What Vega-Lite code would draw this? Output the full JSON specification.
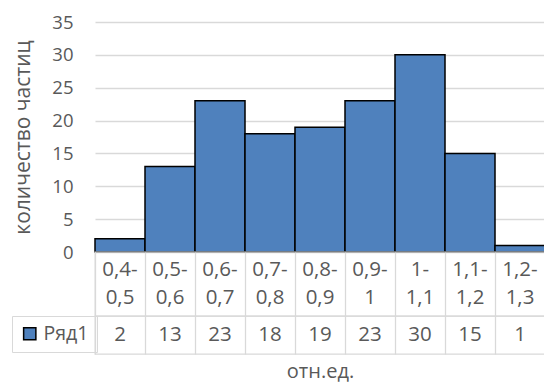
{
  "$schema": "https://vega.github.io/schema/vega-lite/v6.json",
  "padding": {"left": 10, "top": 13, "right": 0, "bottom": 0},
  "bounds": "flush",
  "spacing": 0,
  "config": {
    "font": "Open Sans",
    "view": {"stroke": "#d9d9d9", "strokeWidth": 1.3},
    "axis": {"labelColor": "#595959", "titleColor": "#595959", "labelFontSize": 18.5, "titleFontSize": 21, "titleFontWeight": "normal", "gridColor": "#d9d9d9", "gridWidth": 1.3, "domain": false, "ticks": false},
    "text": {"color": "#595959", "fontSize": 20.5}
  },
  "datasets": {
    "hist": [
      {"range": "0,4-0,5", "label": "0,4-\n0,5", "count": 2},
      {"range": "0,5-0,6", "label": "0,5-\n0,6", "count": 13},
      {"range": "0,6-0,7", "label": "0,6-\n0,7", "count": 23},
      {"range": "0,7-0,8", "label": "0,7-\n0,8", "count": 18},
      {"range": "0,8-0,9", "label": "0,8-\n0,9", "count": 19},
      {"range": "0,9-1", "label": "0,9-\n1", "count": 23},
      {"range": "1-1,1", "label": "1-\n1,1", "count": 30},
      {"range": "1,1-1,2", "label": "1,1-\n1,2", "count": 15},
      {"range": "1,2-1,3", "label": "1,2-\n1,3", "count": 1}
    ]
  },
  "resolve": {"legend": {"color": "independent"}},
  "vconcat": [
    {
      "width": 450, "height": 230,
      "view": {"stroke": null},
      "data": {"name": "hist"},
      "mark": {"type": "bar", "color": "#4f81bd", "stroke": "black", "strokeWidth": 1.5},
      "encoding": {
        "x": {"field": "range", "type": "nominal", "sort": null, "scale": {"paddingInner": 0, "paddingOuter": 0}, "axis": null},
        "y": {"field": "count", "type": "quantitative", "scale": {"domain": [0, 35]},
              "axis": {"values": [0, 5, 10, 15, 20, 25, 30, 35], "title": "количество частиц", "labelPadding": 22, "titlePadding": 18, "grid": true}}
      }
    },
    {
      "width": 450, "height": 64,
      "data": {"name": "hist"},
      "mark": {"type": "text", "lineBreak": "\n", "lineHeight": 28, "baseline": "middle", "dy": -14},
      "encoding": {
        "x": {"field": "range", "type": "nominal", "sort": null, "scale": {"paddingInner": 0, "paddingOuter": 0},
              "axis": {"grid": true, "tickBand": "extent", "labels": false, "title": null}},
        "text": {"field": "label", "type": "nominal"}
      }
    },
    {
      "width": 450, "height": 38,
      "data": {"name": "hist"},
      "encoding": {
        "x": {"field": "range", "type": "nominal", "sort": null, "scale": {"paddingInner": 0, "paddingOuter": 0},
              "axis": {"grid": true, "tickBand": "extent", "labels": false, "title": "отн.ед.", "titlePadding": 7, "titleFontSize": 20}}
      },
      "layer": [
        {
          "mark": {"type": "text", "baseline": "middle"},
          "encoding": {"text": {"field": "count", "type": "quantitative"}}
        },
        {
          "mark": {"type": "square", "opacity": 0, "stroke": "black", "strokeWidth": 1.5},
          "encoding": {
            "color": {"datum": "Ряд1", "type": "nominal", "scale": {"range": ["#4f81bd"]},
              "legend": {"orient": "none", "legendX": -83, "legendY": 0, "title": null, "symbolType": "square", "symbolSize": 150,
                "symbolStrokeColor": "black", "symbolStrokeWidth": 1.5, "symbolOpacity": 1, "labelFontSize": 19.5, "labelColor": "#595959",
                "labelOffset": 4, "padding": 8, "strokeColor": "#d9d9d9", "cornerRadius": 0}}
          }
        }
      ]
    }
  ]
}
